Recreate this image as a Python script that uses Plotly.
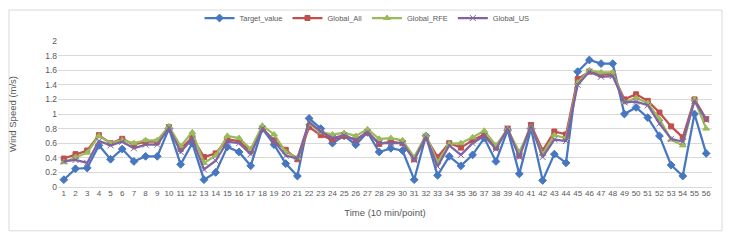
import plotly.graph_objects as go

time_points = list(range(1, 57))

target_value = [0.10, 0.25, 0.26, 0.57, 0.38, 0.52, 0.35, 0.42, 0.42, 0.80,
                0.31, 0.60, 0.10, 0.20, 0.55, 0.48, 0.29, 0.80, 0.58, 0.32,
                0.15, 0.94, 0.80, 0.60, 0.70, 0.58, 0.75, 0.48, 0.53, 0.50,
                0.10, 0.70, 0.16, 0.42, 0.29, 0.44, 0.67, 0.35, 0.78, 0.18,
                0.80, 0.09, 0.45, 0.33, 1.58, 1.74, 1.69, 1.69, 1.00, 1.09,
                0.95, 0.70, 0.30, 0.15, 1.00, 0.46]

global_all = [0.39, 0.45, 0.50, 0.71, 0.60, 0.66, 0.58, 0.62, 0.62, 0.82,
              0.52, 0.68, 0.41, 0.46, 0.65, 0.63, 0.49, 0.80, 0.64, 0.51,
              0.38, 0.82, 0.71, 0.65, 0.70, 0.65, 0.75, 0.59, 0.62, 0.60,
              0.38, 0.68, 0.41, 0.60, 0.54, 0.64, 0.72, 0.54, 0.80, 0.43,
              0.85, 0.50, 0.76, 0.72, 1.48, 1.58, 1.54, 1.55, 1.20, 1.27,
              1.18, 1.02, 0.83, 0.68, 1.20, 0.93]

global_rfe = [0.34, 0.41, 0.47, 0.70, 0.60, 0.64, 0.60, 0.64, 0.64, 0.83,
              0.56, 0.75, 0.33, 0.43, 0.70, 0.67, 0.52, 0.84, 0.72, 0.48,
              0.40, 0.87, 0.75, 0.72, 0.74, 0.70, 0.79, 0.66, 0.67, 0.64,
              0.41, 0.71, 0.34, 0.59, 0.60, 0.68, 0.77, 0.57, 0.79, 0.48,
              0.82, 0.45, 0.71, 0.67, 1.43, 1.60, 1.57, 1.57, 1.16, 1.22,
              1.15, 0.93, 0.65, 0.57, 1.20, 0.80]

global_us = [0.35, 0.37, 0.33, 0.63, 0.57, 0.62, 0.53, 0.58, 0.58, 0.81,
             0.48, 0.66, 0.24, 0.36, 0.62, 0.60, 0.45, 0.80, 0.63, 0.43,
             0.39, 0.89, 0.76, 0.67, 0.71, 0.64, 0.75, 0.60, 0.60, 0.60,
             0.37, 0.69, 0.28, 0.57, 0.44, 0.60, 0.70, 0.52, 0.80, 0.41,
             0.84, 0.41, 0.65, 0.63, 1.40, 1.58, 1.51, 1.52, 1.16, 1.17,
             1.12, 0.87, 0.66, 0.62, 1.18, 0.92]

y_ticks = [0, 0.2, 0.4, 0.6, 0.8, 1, 1.2, 1.4, 1.6, 1.8, 2]
y_tick_text = ["0", "0.2", "0.4", "0.6", "0.8", "1", "1.2", "1.4", "1.6", "1.8", "2"]

series = [
    ("Target_value", target_value, "#4677C0", "diamond", 6),
    ("Global_All", global_all, "#C0504D", "square", 5),
    ("Global_RFE", global_rfe, "#9BBB59", "triangle-up", 6),
    ("Global_US", global_us, "#8064A2", "x-thin", 6),
]

fig = go.Figure()
for name, vals, color, sym, size in series:
    fig.add_trace(go.Scatter(
        x=time_points, y=vals, name=name, mode="lines+markers",
        line=dict(color=color, width=2.25),
        marker=dict(symbol=sym, size=size, color=color,
                    line=dict(color=color, width=1)),
    ))

font = "Liberation Sans, Arial, sans-serif"
fig.update_layout(
    width=733, height=240,
    margin=dict(l=58, r=21, t=41, b=53, autoexpand=False),
    paper_bgcolor="white", plot_bgcolor="white",
    font=dict(family=font, size=9, color="#595959"),
    showlegend=True,
    legend=dict(orientation="h", x=0.4725, xanchor="center",
                yref="container", y=0.925, yanchor="middle",
                font=dict(size=7.5, color="#595959"), itemwidth=30,
                tracegroupgap=0, bgcolor="rgba(0,0,0,0)"),
    xaxis=dict(range=[0.5, 56.5], tickmode="array", tickvals=time_points,
               ticktext=[str(t) for t in time_points], tickangle=0,
               tickfont=dict(size=8, color="#595959"), automargin=False,
               showgrid=False, zeroline=False, showline=False, ticks="",
               title=dict(text="Time (10 min/point)", font=dict(size=9.5, color="#595959"), standoff=12)),
    yaxis=dict(range=[0, 2], tickmode="array", tickvals=y_ticks, ticktext=y_tick_text,
               tickfont=dict(size=8.5, color="#595959"), automargin=False,
               showgrid=True, gridcolor="#D9D9D9", gridwidth=1,
               zeroline=True, zerolinecolor="#D9D9D9", zerolinewidth=1,
               showline=False, ticks="", ticklen=0,
               title=dict(text="Wind Speed (m/s)", font=dict(size=9.5, color="#595959"), standoff=26)),
    shapes=[dict(type="rect", xref="paper", yref="paper",
                 x0=-0.0749, x1=1.0153, y0=-0.30, y1=1.212,
                 line=dict(color="#D9D9D9", width=1), fillcolor="rgba(0,0,0,0)", layer="below")],
)

fig.write_html("out.html", config={"displayModeBar": False},
               post_script="document.body.style.margin='0';document.body.style.overflow='hidden';")
